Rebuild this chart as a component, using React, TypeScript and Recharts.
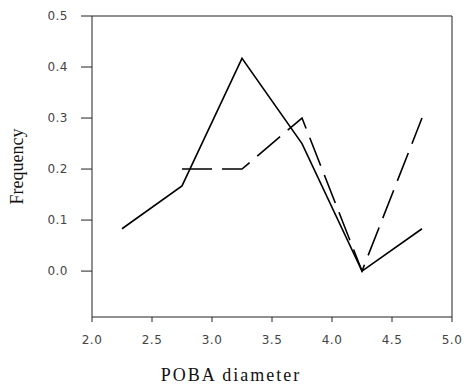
import React from 'react';
import { LineChart, Line, XAxis, YAxis, ReferenceLine } from 'recharts';

const solidDiameter = [2.25, 2.75, 3.25, 3.75, 4.25, 4.75];
const solidFrequency = [0.083, 0.167, 0.417, 0.25, 0, 0.083];
const dashedDiameter = [2.75, 3.25, 3.75, 4.25, 4.75];
const dashedFrequency = [0.2, 0.2, 0.3, 0, 0.3];
const xTicks = [2.0, 2.5, 3.0, 3.5, 4.0, 4.5, 5.0];
const yTicks = [0.0, 0.1, 0.2, 0.3, 0.4, 0.5];

const solidData = solidDiameter.map((x, i) => ({ x, y: solidFrequency[i] }));
const dashedData = dashedDiameter.map((x, i) => ({ x, y: dashedFrequency[i] }));

const tickStyle = { fontFamily: 'DejaVu Sans', fontSize: 12, fill: '#444', letterSpacing: 0.5 };

export default function App() {
  return (
    <div style={{ position: 'absolute', left: 0, top: 0, background: '#fff' }}>
      <LineChart width={466} height={385} margin={{ top: 16, right: 14, bottom: 0, left: 0 }}>
        <XAxis
          type="number"
          dataKey="x"
          domain={[2, 5]}
          ticks={xTicks}
          allowDataOverflow
          tickFormatter={(v: number) => v.toFixed(1)}
          tick={tickStyle}
          tickSize={5}
          tickMargin={13}
          height={68}
          stroke="#222"
          label={{
            value: 'POBA diameter',
            position: 'insideBottom',
            offset: 4,
            dx: -41,
            style: { fontFamily: 'Liberation Serif', fontSize: 18, fill: '#111', letterSpacing: 2 },
          }}
        />
        <YAxis
          type="number"
          dataKey="y"
          domain={[-0.09, 0.5]}
          ticks={yTicks}
          allowDataOverflow
          tickFormatter={(v: number) => v.toFixed(1)}
          tick={tickStyle}
          tickSize={11}
          tickMargin={13}
          width={92}
          stroke="#222"
          label={{
            value: 'Frequency',
            angle: -90,
            position: 'insideLeft',
            offset: 17,
            style: { fontFamily: 'Liberation Serif', fontSize: 18, fill: '#111', textAnchor: 'middle' },
          }}
        />
        <ReferenceLine y={0.5} stroke="#222" ifOverflow="visible" />
        <ReferenceLine x={5} stroke="#222" ifOverflow="visible" />
        <Line
          data={solidData}
          dataKey="y"
          stroke="#000"
          strokeWidth={1.6}
          dot={false}
          isAnimationActive={false}
        />
        <Line
          data={dashedData}
          dataKey="y"
          stroke="#000"
          strokeWidth={1.6}
          strokeDasharray="30 10"
          dot={false}
          isAnimationActive={false}
        />
      </LineChart>
    </div>
  );
}
